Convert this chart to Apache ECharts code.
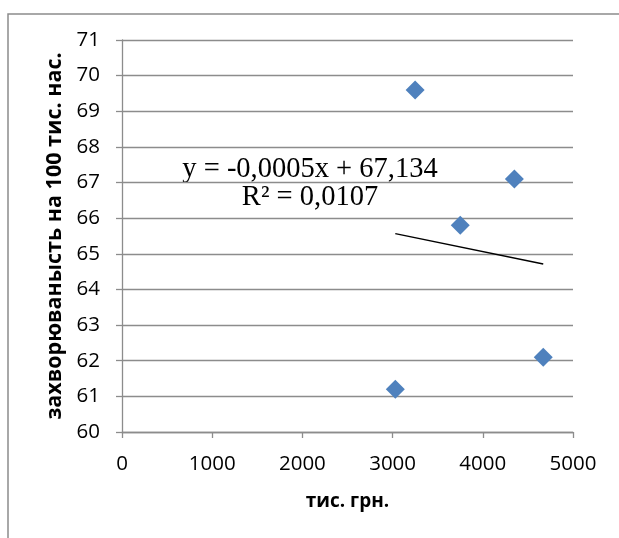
<!DOCTYPE html>
<html>
<head>
<meta charset="utf-8">
<script src="https://cdn.jsdelivr.net/npm/echarts@6/dist/echarts.min.js"></script>
<style>
html,body{margin:0;padding:0;background:#fff;}
#chart{width:619px;height:538px;}
</style>
</head>
<body>
<div id="chart"></div>
<script>
// Data
const xValues = [3030, 3250, 3750, 4350, 4670];   // тис. грн.
const yValues = [61.2, 69.6, 65.8, 67.1, 62.1];   // захворюванысть на 100 тис. нас.
const xTicks = [0, 1000, 2000, 3000, 4000, 5000];
const yTicks = [60, 61, 62, 63, 64, 65, 66, 67, 68, 69, 70, 71];
const equationText = ['y = -0,0005x + 67,134', 'R² = 0,0107'];
const xTitle = 'тис. грн.';
const yTitle = 'захворюванысть на 100 тис. нас.';

// linear regression trendline through the data
const n = xValues.length;
const mx = xValues.reduce((a, b) => a + b, 0) / n;
const my = yValues.reduce((a, b) => a + b, 0) / n;
let sxy = 0, sxx = 0;
for (let i = 0; i < n; i++) { sxy += (xValues[i] - mx) * (yValues[i] - my); sxx += (xValues[i] - mx) ** 2; }
const slope = sxy / sxx;
const intercept = my - slope * mx;
const xMin = Math.min(...xValues), xMax = Math.max(...xValues);
const trend = [[xMin, intercept + slope * xMin], [xMax, intercept + slope * xMax]];

const chart = echarts.init(document.getElementById('chart'), null, {renderer: 'canvas'});
const gridColor = '#8c8c8c';
const labelFont = {fontFamily: 'Open Sans', fontSize: 20.5, color: '#000'};
chart.setOption({
  animation: false,
  backgroundColor: '#fff',
  grid: {left: 122, right: 46, top: 40, bottom: 106, containLabel: false},
  xAxis: {
    type: 'value', min: xTicks[0], max: xTicks[xTicks.length - 1], interval: 1000,
    name: xTitle, nameLocation: 'middle', nameGap: 60,
    nameTextStyle: {fontFamily: 'Open Sans', fontWeight: 'bold', fontSize: 19, color: '#000'},
    axisLine: {show: true, lineStyle: {color: gridColor, width: 1.3}},
    axisTick: {show: true, length: 6, lineStyle: {color: gridColor, width: 1.3}},
    axisLabel: Object.assign({margin: 22, formatter: v => String(v)}, labelFont),
    splitLine: {show: false}
  },
  yAxis: {
    type: 'value', min: yTicks[0], max: yTicks[yTicks.length - 1], interval: 1,
    name: yTitle, nameLocation: 'middle', nameGap: 56, nameRotate: 90,
    nameTextStyle: {fontFamily: 'Open Sans', fontWeight: 'bold', fontSize: 21.5, color: '#000'},
    axisLine: {show: true, lineStyle: {color: gridColor, width: 1.3}},
    axisTick: {show: true, length: 6, lineStyle: {color: gridColor, width: 1.3}},
    axisLabel: Object.assign({margin: 22, formatter: v => String(v)}, labelFont),
    splitLine: {show: true, lineStyle: {color: gridColor, width: 1.3}}
  },
  graphic: [
    {type: 'rect', silent: true, shape: {x: 8, y: 14, width: 700, height: 600},
     style: {fill: 'none', stroke: '#8c8c8c', lineWidth: 1.5}},
    {type: 'text', silent: true, x: 310, y: 170,
     style: {text: equationText[0], align: 'center', verticalAlign: 'middle',
       font: '28.5px "Liberation Serif"', fill: '#000'}},
    {type: 'text', silent: true, x: 310, y: 198,
     style: {text: equationText[1], align: 'center', verticalAlign: 'middle',
       font: '28.5px "Liberation Serif"', fill: '#000'}}
  ],
  series: [
    {type: 'scatter', data: xValues.map((x, i) => [x, yValues[i]]),
     symbol: 'diamond', symbolSize: [19, 19],
     itemStyle: {color: '#4f81bd', opacity: 1}, z: 3},
    {type: 'line', data: trend, symbol: 'none', silent: true,
     lineStyle: {color: '#000', width: 1.5}, z: 2}
  ]
});
</script>
</body>
</html>
